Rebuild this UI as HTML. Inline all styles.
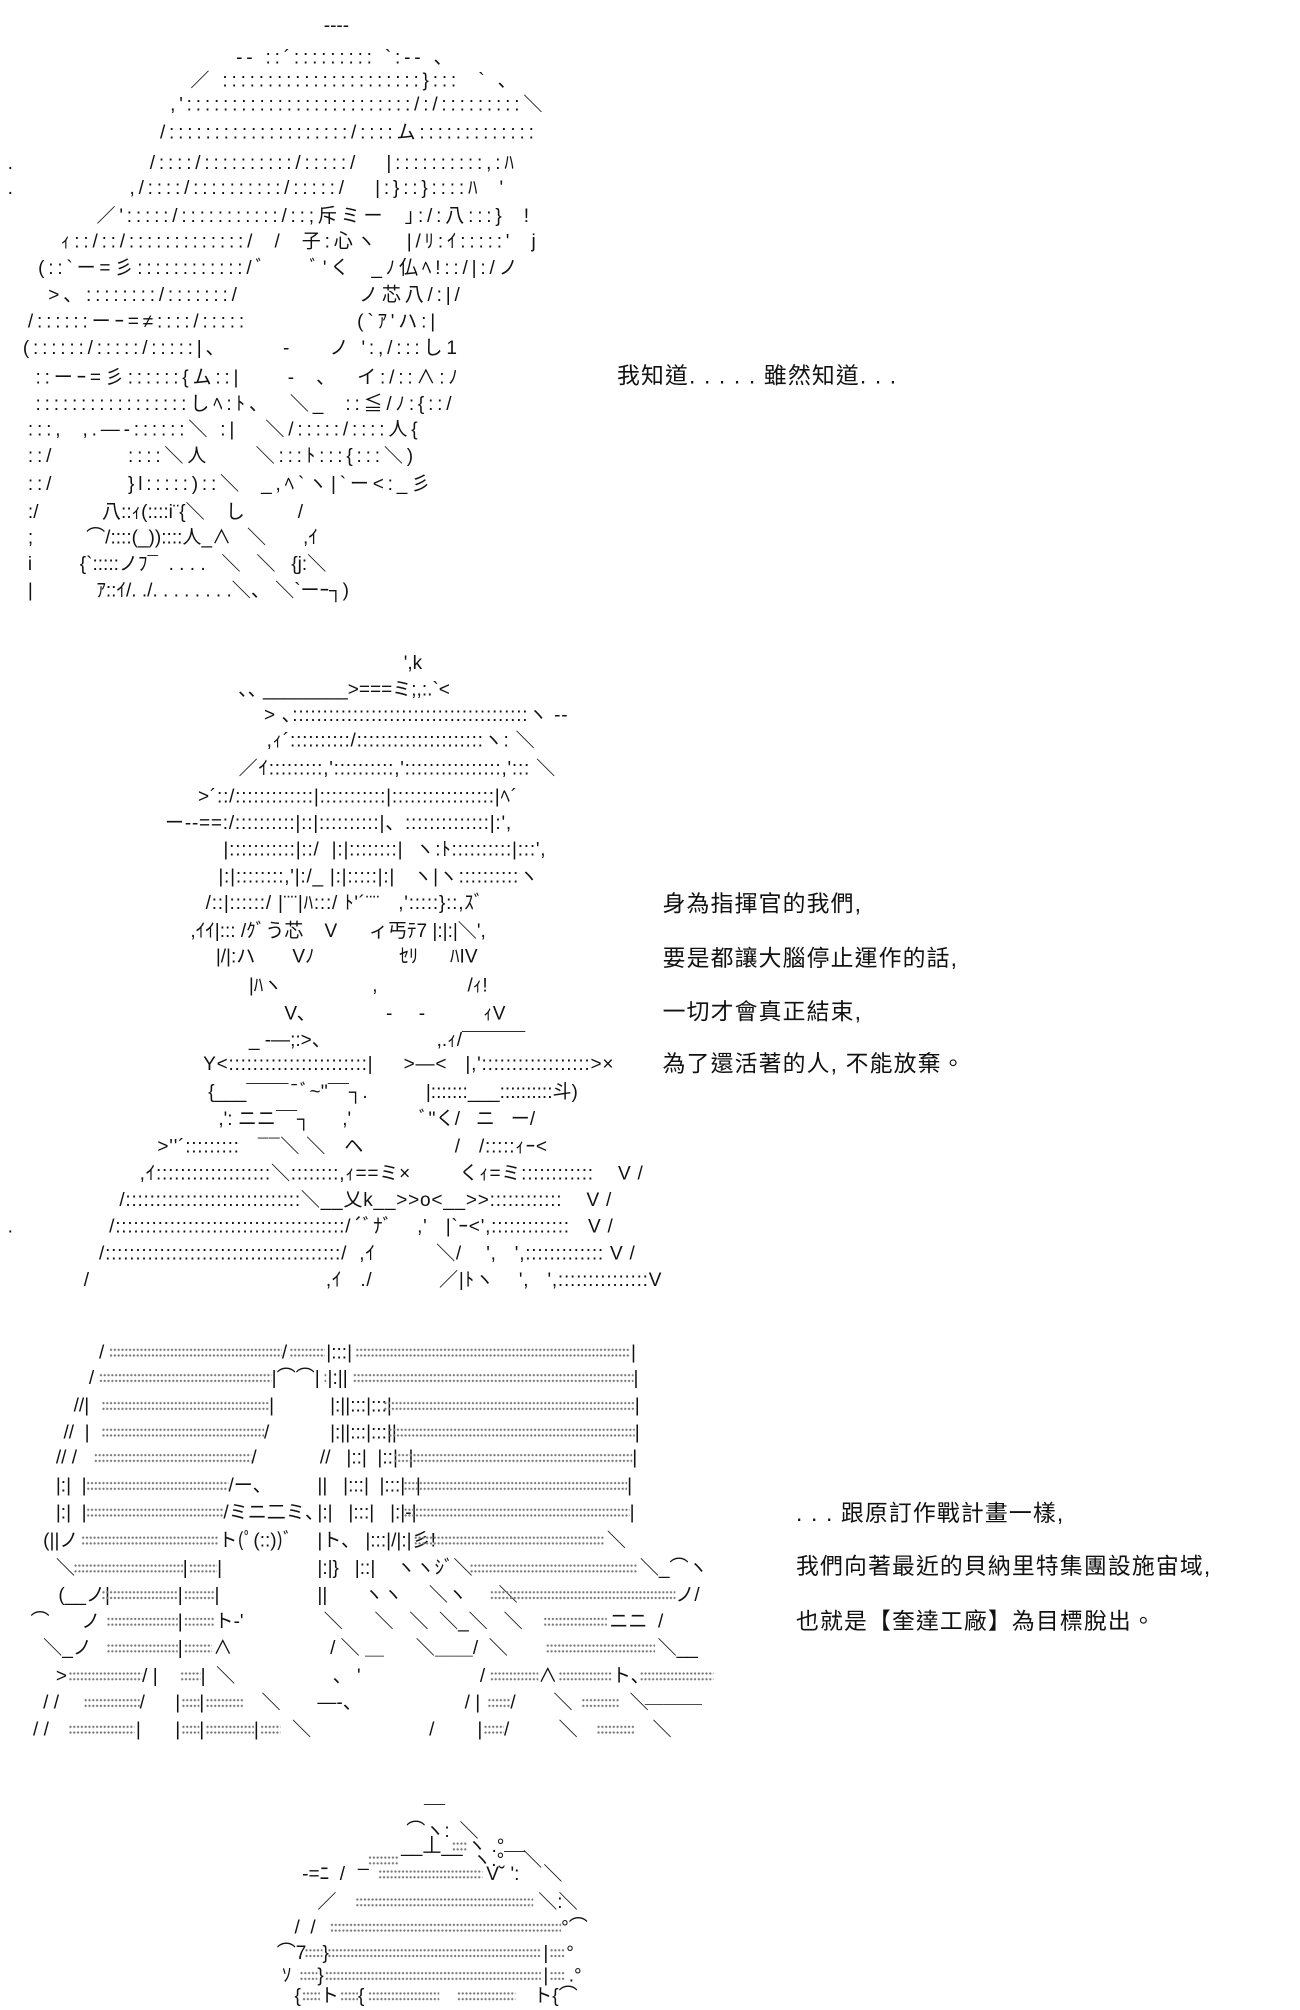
<!DOCTYPE html>
<html><head><meta charset="utf-8">
<style>
html,body{margin:0;padding:0;background:#fff;}
body{width:1300px;height:2000px;overflow:hidden;position:relative;}
#c{position:absolute;left:0;top:0;width:1024px;height:1576px;transform:scale(1.2695);transform-origin:0 0;font-family:"Liberation Sans","Noto Sans CJK JP",sans-serif;color:#111;}
.l{position:absolute;white-space:pre;font-size:15px;line-height:21px;height:21px;}
.s{position:absolute;white-space:pre;font-size:15px;line-height:21px;top:0;}
.d{position:absolute;top:6px;height:9px;background:radial-gradient(circle,#777 0.7px,transparent 1.1px) 0 0/3px 4.5px;}
.t{position:absolute;white-space:pre;font-size:18px;letter-spacing:0.9px;line-height:20px;font-family:"Liberation Sans","Noto Sans CJK TC",sans-serif;color:#111;}
.dt{letter-spacing:3px;}
.d2{letter-spacing:0.6px;}
</style></head><body><div id="c">

<!-- block 1 -->
<div class="l" style="left:255px;top:10px">-‐‐-</div>
<div class="l dt" style="left:186px;top:35px">-‐ ::´::::::::: `:‐- 、</div>
<div class="l dt" style="left:150px;top:53px">／ ::::::::::::::::::::::}:::  ` 、</div>
<div class="l dt" style="left:134px;top:72px">,':::::::::::::::::::::::::/:/:::::::::＼</div>
<div class="l dt" style="left:126px;top:94px">/::::::::::::::::::::/::::ム:::::::::::::</div>
<div class="l" style="left:6px;top:118px">.</div>
<div class="l dt" style="left:118px;top:118px">/::::/::::::::::/:::::/   |::::::::::,:ﾊ</div>
<div class="l" style="left:6px;top:138px">.</div>
<div class="l dt" style="left:102px;top:138px">,/::::/::::::::::/:::::/   |:}::}::::ﾊ  '</div>
<div class="l dt" style="left:76px;top:160px">／':::::/:::::::::::/::;斥ミー  ｣:/:八:::}  !</div>
<div class="l dt" style="left:48px;top:180px">ｨ::/::/:::::::::::::/  /  子:心ヽ   |/ﾘ:ｲ:::::'  j</div>
<div class="l dt" style="left:30px;top:201px">(::`ー=彡::::::::::::/ﾞ     ﾞ'く  _ﾉ仏ﾍ!::/|:/ノ</div>
<div class="l dt" style="left:38px;top:222px">>、::::::::/:::::::/             ノ芯八/:|/</div>
<div class="l dt" style="left:22px;top:243px">/::::::ーｰ=≠::::/:::::            (`ｱ'ハ:|</div>
<div class="l dt" style="left:18px;top:264px">(::::::/:::::/:::::|、      -    ノ ':,/:::し1</div>
<div class="l dt" style="left:28px;top:287px">::ーｰ=彡::::::{ム::|     -  、  イ:/::∧:ﾉ</div>
<div class="l dt" style="left:28px;top:308px">:::::::::::::::::しﾍ:ﾄ、  ＼_  ::≦/ﾉ:{::/</div>
<div class="l dt" style="left:22px;top:328px">:::,  ,.―-::::::＼ :|   ＼/:::::/::::人{</div>
<div class="l dt" style="left:22px;top:349px">::/        ::::＼人     ＼:::ﾄ:::{:::＼)</div>
<div class="l dt" style="left:22px;top:371px">::/        }l:::::)::＼  _,ﾍ`ヽ|`ー<:_彡</div>
<div class="l" style="left:22px;top:393px">:/            八::ｨ(::::i¨{＼    し          /</div>
<div class="l" style="left:22px;top:413px">;          ⌒/::::(_))::::人_∧   ＼       ,ｲ</div>
<div class="l" style="left:22px;top:434px">i         {`:::::ノﾌ¯  . . . .   ＼   ＼   {j:＼</div>
<div class="l" style="left:22px;top:455px">|            ｱ::ｲ/. ./. . . . . . . .＼、 ＼`ーｰ┐)</div>

<div class="t" style="left:486px;top:286px">我知道. . . . . 雖然知道. . .</div>

<!-- block 2 -->
<div class="l" style="left:318px;top:512px">',k</div>
<div class="l" style="left:188px;top:533px">､､ ________>===ミ;,:.`&lt;</div>
<div class="l d2" style="left:208px;top:553px">> ､:::::::::::::::::::::::::::::::::::::::ヽ ‐-</div>
<div class="l d2" style="left:210px;top:573px">,ｨ´::::::::::/:::::::::::::::::::::ヽ: ＼</div>
<div class="l d2" style="left:188px;top:595px">／ｲ:::::::::,'::::::::::,'::::::::::::::::,'::: ＼</div>
<div class="l d2" style="left:156px;top:617px">>´::/:::::::::::::|:::::::::::|:::::::::::::::::|ﾍ´</div>
<div class="l d2" style="left:130px;top:638px">ー--==:/::::::::::|::|::::::::::|、::::::::::::::|:',</div>
<div class="l d2" style="left:176px;top:659px">|:::::::::::|::/  |:|::::::::|  ヽ:ﾄ::::::::::|:::',</div>
<div class="l d2" style="left:172px;top:680px">|:|::::::::,'|:/_ |:|:::::|:|   ヽ|ヽ::::::::::ヽ</div>
<div class="l d2" style="left:162px;top:701px">/::|::::::/ |¨¨|ﾊ:::/ ﾄ'´¨¨   ,':::::}::,ｽﾞ</div>
<div class="l" style="left:150px;top:723px">,ｲｲ|::: /ｸﾞう芯    V      ィ丐ﾃ7 |:|:|＼',</div>
<div class="l" style="left:170px;top:743px">|/|:ハ       Vﾉ                ｾﾘ      ﾊIV</div>
<div class="l" style="left:196px;top:766px">|ﾊヽ                 ,                 /ｨ!</div>
<div class="l" style="left:224px;top:788px">V､               -     -           ｨV</div>
<div class="l" style="left:196px;top:809px">_ -―;:>、                    ,.ｨ/¯¯¯¯¯¯</div>
<div class="l d2" style="left:160px;top:828px">Y<:::::::::::::::::::::::|     >―<   |,'::::::::::::::::::>×</div>
<div class="l" style="left:164px;top:850px">{___¯¯¯¯¯ﾞ~''¯¯┐.           |:::::::___::::::::::斗)</div>
<div class="l" style="left:172px;top:871px">,': ニニ¯¯┐      ,'             ﾞ''く/   ニ   ー/</div>
<div class="l d2" style="left:124px;top:893px">>''´:::::::::   ¯¯＼ ＼   ヘ               /   /:::::ｨｰ<</div>
<div class="l d2" style="left:110px;top:914px">,ｲ:::::::::::::::::::＼::::::::,ｨ==ミ×        くｨ=ミ::::::::::::    V /</div>
<div class="l d2" style="left:94px;top:935px">/:::::::::::::::::::::::::::::＼__乂k__>>o<__>>::::::::::::    V /</div>
<div class="l" style="left:6px;top:956px">.</div>
<div class="l d2" style="left:86px;top:956px">/::::::::::::::::::::::::::::::::::::::/´ﾞﾅﾞ    ,'   |`ｰ<',:::::::::::::   V /</div>
<div class="l d2" style="left:78px;top:977px">/:::::::::::::::::::::::::::::::::::::::/  ,ｲ          ＼/    ',   ',::::::::::::: V /</div>
<div class="l d2" style="left:66px;top:998px">/                                       ,ｲ   ./           ／|ﾄヽ    ',   ',:::::::::::::::V</div>

<div class="t" style="left:522px;top:702px">身為指揮官的我們,</div>
<div class="t" style="left:522px;top:745px">要是都讓大腦停止運作的話,</div>
<div class="t" style="left:522px;top:787px">一切才會真正結束,</div>
<div class="t" style="left:522px;top:828px">為了還活著的人, 不能放棄。</div>

<!-- block 3 -->
<div class="l" style="left:0;top:1055px;width:1024px">
<span class="s" style="left:78px">/</span><i class="d" style="left:86px;width:136px"></i><span class="s" style="left:222px">/</span><i class="d" style="left:228px;width:28px"></i><span class="s" style="left:257px">|:::|</span><i class="d" style="left:280px;width:216px"></i><span class="s" style="left:497px">|</span></div>
<div class="l" style="left:0;top:1075px;width:1024px">
<span class="s" style="left:70px">/</span><i class="d" style="left:78px;width:136px"></i><span class="s" style="left:214px">|⌒⌒|</span><i class="d" style="left:255px;width:2px"></i><span class="s" style="left:258px">|:||</span><i class="d" style="left:278px;width:221px"></i><span class="s" style="left:499px">|</span></div>
<div class="l" style="left:0;top:1097px;width:1024px">
<span class="s" style="left:58px">//|</span><i class="d" style="left:80px;width:132px"></i><span class="s" style="left:212px">|</span><span class="s" style="left:260px">|:||:::|:::|</span><i class="d" style="left:302px;width:198px"></i><span class="s" style="left:500px">|</span></div>
<div class="l" style="left:0;top:1118px;width:1024px">
<span class="s" style="left:50px">//  |</span><i class="d" style="left:80px;width:128px"></i><span class="s" style="left:208px">/</span><span class="s" style="left:260px">|:||:::|:::||</span><i class="d" style="left:306px;width:194px"></i><span class="s" style="left:500px">|</span></div>
<div class="l" style="left:0;top:1138px;width:1024px">
<span class="s" style="left:44px">// /</span><i class="d" style="left:74px;width:124px"></i><span class="s" style="left:198px">/</span><span class="s" style="left:252px">//   |::|  |::|  |</span><i class="d" style="left:310px;width:188px"></i><span class="s" style="left:498px">|</span></div>
<div class="l" style="left:0;top:1160px;width:1024px">
<span class="s" style="left:44px">|:|  |</span><i class="d" style="left:68px;width:112px"></i><span class="s" style="left:180px">/ー、</span><span class="s" style="left:250px">||   |:::|  |:::|  |</span><i class="d" style="left:318px;width:176px"></i><span class="s" style="left:494px">|</span></div>
<div class="l" style="left:0;top:1181px;width:1024px">
<span class="s" style="left:44px">|:|  |</span><i class="d" style="left:68px;width:108px"></i><span class="s" style="left:176px">/ミニ二ミ、</span><span class="s" style="left:250px">|:|   |:::|   |:|-|</span><i class="d" style="left:318px;width:178px"></i><span class="s" style="left:496px">|</span></div>
<div class="l" style="left:0;top:1203px;width:1024px">
<span class="s" style="left:34px">(||ノ</span><i class="d" style="left:64px;width:108px"></i><span class="s" style="left:172px">ト(ﾟ(::))ﾞ</span><span class="s" style="left:250px">|ト、 |:::|/|:|彡!</span><i class="d" style="left:326px;width:150px"></i><span class="s" style="left:478px">＼</span></div>
<div class="l" style="left:0;top:1225px;width:1024px">
<span class="s" style="left:44px">＼</span><i class="d" style="left:58px;width:86px"></i><span class="s" style="left:144px">|</span><i class="d" style="left:149px;width:22px"></i><span class="s" style="left:171px">|</span><span class="s" style="left:250px">|:|}   |::|    ヽヽｼﾞ＼</span><i class="d" style="left:370px;width:132px"></i><span class="s" style="left:504px">＼_⌒ヽ</span></div>
<div class="l" style="left:0;top:1246px;width:1024px">
<span class="s" style="left:46px">(__ノ|</span><i class="d" style="left:80px;width:60px"></i><span class="s" style="left:140px">|</span><i class="d" style="left:145px;width:24px"></i><span class="s" style="left:169px">|</span><span class="s" style="left:250px">||       ヽヽ     ＼ヽ      ＼</span><i class="d" style="left:386px;width:146px"></i><span class="s" style="left:532px">ノ/</span></div>
<div class="l" style="left:0;top:1267px;width:1024px">
<span class="s" style="left:24px">⌒      ノ</span><i class="d" style="left:84px;width:56px"></i><span class="s" style="left:140px">|</span><i class="d" style="left:145px;width:24px"></i><span class="s" style="left:169px">ト‐'</span><span class="s" style="left:255px">＼      ＼   ＼  ＼_＼   ＼</span><i class="d" style="left:428px;width:50px"></i><span class="s" style="left:480px">ニニ  /</span></div>
<div class="l" style="left:0;top:1288px;width:1024px">
<span class="s" style="left:34px">＼_ノ</span><i class="d" style="left:84px;width:56px"></i><span class="s" style="left:140px">|</span><i class="d" style="left:145px;width:22px"></i><span class="s" style="left:168px">∧</span><span class="s" style="left:260px">/ ＼ ＿      ＼＿＿/  ＼</span><i class="d" style="left:430px;width:86px"></i><span class="s" style="left:518px">＼__</span></div>
<div class="l" style="left:0;top:1310px;width:1024px">
<span class="s" style="left:44px">></span><i class="d" style="left:54px;width:58px"></i><span class="s" style="left:112px">/ |</span><i class="d" style="left:142px;width:16px"></i><span class="s" style="left:158px">|  ＼</span><span class="s" style="left:262px">、 '</span><span class="s" style="left:378px">/</span><i class="d" style="left:386px;width:38px"></i><span class="s" style="left:424px">∧</span><i class="d" style="left:440px;width:42px"></i><span class="s" style="left:482px">ト、</span><i class="d" style="left:504px;width:58px"></i></div>
<div class="l" style="left:0;top:1331px;width:1024px">
<span class="s" style="left:34px">/ /</span><i class="d" style="left:66px;width:44px"></i><span class="s" style="left:110px">/</span><span class="s" style="left:138px">|</span><i class="d" style="left:143px;width:14px"></i><span class="s" style="left:157px">|</span><i class="d" style="left:162px;width:30px"></i><span class="s" style="left:206px">＼</span><span class="s" style="left:250px">―-、</span><span class="s" style="left:366px">/ |</span><i class="d" style="left:384px;width:18px"></i><span class="s" style="left:402px">/</span><span class="s" style="left:436px">＼</span><i class="d" style="left:458px;width:30px"></i><span class="s" style="left:496px">＼</span><span class="s" style="left:508px;top:-5px">＿＿＿</span></div>
<div class="l" style="left:0;top:1352px;width:1024px">
<span class="s" style="left:26px">/ /</span><i class="d" style="left:54px;width:52px"></i><span class="s" style="left:107px">|</span><span class="s" style="left:138px">|</span><i class="d" style="left:143px;width:14px"></i><span class="s" style="left:157px">|</span><i class="d" style="left:162px;width:38px"></i><span class="s" style="left:200px">|</span><i class="d" style="left:205px;width:16px"></i><span class="s" style="left:230px">＼</span><span class="s" style="left:338px">/</span><span class="s" style="left:376px">|</span><i class="d" style="left:381px;width:16px"></i><span class="s" style="left:397px">/</span><span class="s" style="left:440px">＼</span><i class="d" style="left:470px;width:30px"></i><span class="s" style="left:514px">＼</span></div>

<div class="t" style="left:627px;top:1182px">. . . 跟原訂作戰計畫一樣,</div>
<div class="t" style="left:627px;top:1224px">我們向著最近的貝納里特集團設施宙域,</div>
<div class="t" style="left:627px;top:1267px">也就是【奎達工廠】為目標脫出。</div>

<!-- block 4 -->
<div class="l" style="left:0;top:1418px;width:1024px"><span class="s" style="left:334px">¯¯</span></div>
<div class="l" style="left:0;top:1432px;width:1024px"><span class="s" style="left:320px">⌒ヽ:</span><span class="s" style="left:362px">＼</span></div>
<div class="l" style="left:0;top:1444px;width:1024px"><span class="s" style="left:316px">__丄__</span><i class="d" style="left:356px;width:12px"></i><span class="s" style="left:368px">ヽ .°</span></div>
<div class="l" style="left:0;top:1455px;width:1024px"><span class="s" style="left:282px">_</span><i class="d" style="left:290px;width:24px"></i><span class="s" style="left:372px">ヽ.°¯¯</span><span class="s" style="left:412px">＼</span></div>
<div class="l" style="left:0;top:1466px;width:1024px"><span class="s" style="left:238px">-=ﾆ  /</span><i class="d" style="left:298px;width:82px"></i><span class="s" style="left:383px">V˘ ':</span><span class="s" style="left:428px">＼</span></div>
<div class="l" style="left:0;top:1488px;width:1024px"><span class="s" style="left:250px">／</span><i class="d" style="left:280px;width:140px"></i><span class="s" style="left:424px">＼:</span><span class="s" style="left:440px">＼</span></div>
<div class="l" style="left:0;top:1508px;width:1024px"><span class="s" style="left:232px">/  /</span><i class="d" style="left:260px;width:182px"></i><span class="s" style="left:442px">°⌒</span></div>
<div class="l" style="left:0;top:1528px;width:1024px"><span class="s" style="left:218px">⌒7</span><i class="d" style="left:240px;width:14px"></i><span class="s" style="left:254px">}</span><i class="d" style="left:258px;width:168px"></i><span class="s" style="left:428px">|</span><i class="d" style="left:433px;width:12px"></i><span class="s" style="left:446px">°</span></div>
<div class="l" style="left:0;top:1546px;width:1024px"><span class="s" style="left:222px">ｿ</span><i class="d" style="left:236px;width:14px"></i><span class="s" style="left:250px">}</span><i class="d" style="left:256px;width:170px"></i><span class="s" style="left:428px">|</span><i class="d" style="left:433px;width:12px"></i><span class="s" style="left:448px">.°</span></div>
<div class="l" style="left:0;top:1562px;width:1024px"><span class="s" style="left:232px">{</span><i class="d" style="left:238px;width:14px"></i><span class="s" style="left:252px">ト</span><i class="d" style="left:268px;width:14px"></i><span class="s" style="left:282px">{</span><i class="d" style="left:290px;width:56px"></i><i class="d" style="left:360px;width:46px"></i><span class="s" style="left:420px">ト{⌒</span></div>

</div></body></html>
